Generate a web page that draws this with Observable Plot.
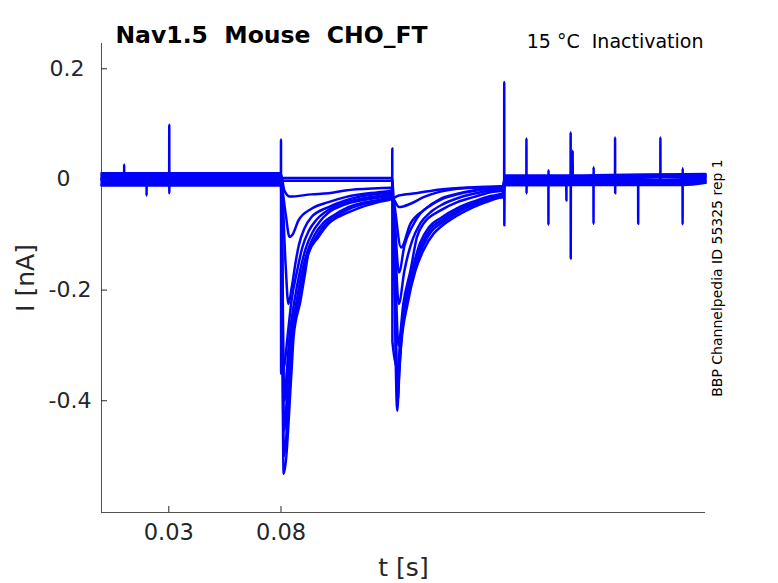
<!DOCTYPE html>
<html>
<head>
<meta charset="utf-8">
<script src="https://cdn.jsdelivr.net/npm/d3@7"></script>
<script src="https://cdn.jsdelivr.net/npm/@observablehq/plot@0.6"></script>
<style>
  html, body { margin: 0; padding: 0; background: #fff; }
  svg text { white-space: pre; }
</style>
</head>
<body>
<div id="chart"></div>
<script>
// ---- Chart text ----
const titleText = "Nav1.5  Mouse  CHO_FT";
const subtitleText = "15 °C  Inactivation";
const sideText = "BBP Channelpedia ID 55325 rep 1";
const xLabel = "t [s]";
const yLabel = "I [nA]";

// ---- Axes ----
const xDomain = [0, 0.2692];
const yDomain = [-0.602, 0.2457];
const xTicks = [0.03, 0.08];
const xTickLabels = ["0.03", "0.08"];
const yTicks = [-0.4, -0.2, 0, 0.2];
const yTickLabels = ["-0.4", "-0.2", "0   ", "0.2 "];

// ---- Sweeps: [time (s), current (nA)] ----
const sweep1 = [[0,0.0025],[0.01006,0.0025],[0.0101,0.027],[0.01014,0.0025],[0.1296,0.0025],
  [0.1318,-0.418],[0.1327,-0.345],[0.1336,-0.297],[0.1364,-0.225],[0.1399,-0.165],[0.1435,-0.128],
  [0.1480,-0.098],[0.1511,-0.086],[0.1586,-0.065],[0.1658,-0.050],[0.1734,-0.038],[0.1790,-0.032],
  [0.17946,-0.032],[0.1795,0.176],[0.17954,-0.083],[0.1797,0.002],[0.2692,0.006]];
const sweep2 = [[0,-0.0025],[0.02006,-0.0025],[0.0201,-0.029],[0.02014,-0.0025],[0.1296,-0.0025],
  [0.1320,-0.400],[0.1328,-0.345],[0.1335,-0.297],[0.1360,-0.225],[0.1392,-0.165],[0.1428,-0.125],
  [0.1470,-0.094],[0.1511,-0.080],[0.1586,-0.060],[0.1658,-0.046],[0.1734,-0.035],[0.1790,-0.030],
  [0.1797,-0.006],[0.18936,-0.006],[0.1894,0.074],[0.18944,-0.025],[0.1895,-0.006],[0.2692,-0.002]];
const sweep3 = [[0,0.008],[0.03016,0.008],[0.0302,0.099],[0.03024,-0.025],[0.0303,0.008],[0.0800,0.008],
  [0.0815,-0.020],[0.0840,-0.031],[0.0936,-0.027],[0.1012,-0.025],[0.1087,-0.020],[0.1234,-0.016],[0.1296,-0.015],
  [0.1320,-0.370],[0.1332,-0.297],[0.1355,-0.225],[0.1388,-0.165],[0.1425,-0.120],[0.1465,-0.090],
  [0.1511,-0.075],[0.1586,-0.056],[0.1658,-0.043],[0.1734,-0.032],[0.1790,-0.027],
  [0.1797,0.004],[0.19916,0.004],[0.1992,-0.082],[0.19924,0.016],[0.1993,0.004],[0.2692,0.008]];
const sweep4 = [[0,-0.009],[0.0800,-0.009],[0.0820,-0.060],[0.0838,-0.104],[0.0851,-0.100],[0.0878,-0.074],
  [0.0936,-0.053],[0.1012,-0.041],[0.1087,-0.032],[0.1234,-0.023],[0.12955,-0.020],[0.1296,0.056],[0.12965,-0.293],
  [0.1322,-0.345],[0.1330,-0.297],[0.1350,-0.225],[0.1384,-0.165],[0.1420,-0.115],[0.1460,-0.086],
  [0.1511,-0.070],[0.1586,-0.052],[0.1658,-0.040],[0.1734,-0.030],[0.1790,-0.025],
  [0.1797,-0.010],[0.20716,-0.010],[0.2072,-0.038],[0.20724,-0.010],[0.2692,-0.006]];
const sweep5 = [[0,0.011],[0.0800,0.011],[0.0820,-0.150],[0.0833,-0.225],[0.0848,-0.195],[0.0865,-0.150],
  [0.0880,-0.118],[0.0905,-0.088],[0.0936,-0.068],[0.1012,-0.050],[0.1087,-0.038],[0.1234,-0.026],[0.1296,-0.024],
  [0.1324,-0.300],[0.1345,-0.225],[0.1377,-0.165],[0.1406,-0.104],[0.1435,-0.080],[0.1511,-0.056],
  [0.1586,-0.041],[0.1658,-0.032],[0.1734,-0.023],[0.1790,-0.020],
  [0.1797,0.007],[0.20906,0.007],[0.2091,0.085],[0.20914,-0.143],[0.2092,0.007],[0.2692,0.010]];
const sweep6 = [[0,-0.001],[0.07995,-0.001],[0.0800,0.072],[0.08005,-0.351],[0.0816,-0.333],[0.0829,-0.285],
  [0.0847,-0.219],[0.0872,-0.165],[0.0895,-0.123],[0.0925,-0.092],[0.0960,-0.072],[0.1012,-0.055],
  [0.1087,-0.042],[0.1234,-0.030],[0.1296,-0.027],
  [0.1325,-0.225],[0.1350,-0.165],[0.1385,-0.110],[0.1420,-0.080],[0.1470,-0.058],[0.1520,-0.045],
  [0.1586,-0.034],[0.1658,-0.026],[0.1734,-0.020],[0.1790,-0.018],
  [0.1797,-0.003],[0.20996,-0.003],[0.2100,0.052],[0.21004,-0.003],[0.21926,-0.003],[0.2193,-0.080],
  [0.21934,0.022],[0.2194,-0.003],[0.2692,0.001]];
const sweep7 = [[0,0.005],[0.0800,0.005],[0.0815,-0.400],[0.0826,-0.346],[0.0838,-0.285],[0.0860,-0.219],
  [0.0885,-0.165],[0.0910,-0.125],[0.0940,-0.096],[0.0975,-0.075],[0.1012,-0.060],[0.1087,-0.045],
  [0.1234,-0.033],[0.1296,-0.029],
  [0.1326,-0.168],[0.1350,-0.120],[0.1385,-0.085],[0.1420,-0.062],[0.1470,-0.046],[0.1520,-0.035],
  [0.1586,-0.027],[0.1658,-0.021],[0.1734,-0.017],[0.1790,-0.016],
  [0.1797,0.002],[0.22886,0.002],[0.2289,0.076],[0.22894,-0.025],[0.2290,0.002],[0.2692,0.005]];
const sweep8 = [[0,-0.006],[0.0800,-0.006],[0.0814,-0.454],[0.0833,-0.346],[0.0845,-0.285],[0.0870,-0.219],
  [0.0895,-0.165],[0.0920,-0.128],[0.0950,-0.100],[0.0990,-0.078],[0.1030,-0.066],[0.1100,-0.050],
  [0.1234,-0.037],[0.1296,-0.032],
  [0.1335,-0.123],[0.1377,-0.080],[0.1435,-0.056],[0.1511,-0.035],[0.1586,-0.026],[0.1658,-0.020],
  [0.1734,-0.016],[0.1790,-0.015],
  [0.1797,-0.007],[0.23916,-0.007],[0.2392,-0.080],[0.23924,-0.007],[0.2692,-0.003]];
const sweep9 = [[0,0.001],[0.0800,0.001],[0.0813,-0.500],[0.0840,-0.346],[0.0850,-0.285],[0.0878,-0.219],
  [0.0902,-0.165],[0.0925,-0.130],[0.0960,-0.102],[0.1000,-0.080],[0.1040,-0.068],[0.1100,-0.054],
  [0.1234,-0.039],[0.1296,-0.034],
  [0.1326,-0.050],[0.1377,-0.044],[0.1435,-0.032],[0.1511,-0.022],[0.1586,-0.017],[0.1734,-0.014],[0.1790,-0.013],
  [0.1797,-0.001],[0.24906,-0.001],[0.2491,0.076],[0.24914,-0.001],[0.2692,0.003]];
const sweep10 = [[0,-0.011],[0.0800,-0.011],[0.0812,-0.532],[0.0847,-0.346],[0.0856,-0.285],[0.0887,-0.219],
  [0.0909,-0.165],[0.0922,-0.134],[0.0967,-0.104],[0.1012,-0.080],[0.1087,-0.062],[0.1159,-0.050],
  [0.1234,-0.041],[0.1296,-0.035],
  [0.1325,-0.029],[0.1400,-0.025],[0.1511,-0.018],[0.1658,-0.014],[0.1790,-0.012],
  [0.1797,-0.010],[0.25896,-0.010],[0.2590,-0.081],[0.25904,0.020],[0.2591,-0.010],[0.2692,-0.006]];

const sweeps = [sweep1, sweep2, sweep3, sweep4, sweep5, sweep6, sweep7, sweep8, sweep9, sweep10];
const traceData = sweeps.flatMap((pts, i) => pts.map(([t, I]) => ({sweep: i + 1, t, I})));

const axisColor = "#262626";
const font = "DejaVu Sans";

const chart = Plot.plot({
  width: 778,
  height: 583,
  marginLeft: 101,
  marginRight: 73,
  marginTop: 43,
  marginBottom: 71,
  style: {fontFamily: font, background: "#ffffff", overflow: "visible"},
  x: {domain: xDomain},
  y: {domain: yDomain},
  marks: [
    Plot.line(traceData, {x: "t", y: "I", z: "sweep", stroke: "#0000ff", strokeWidth: 2.5, curve: "monotone-x"}),
    Plot.ruleX([xDomain[0]], {stroke: axisColor, strokeWidth: 0.8}),
    Plot.ruleY([yDomain[0]], {stroke: axisColor, strokeWidth: 0.8}),
    Plot.axisX({ticks: xTicks, tickSize: -6, tickPadding: 18, fontSize: 22.5, color: axisColor, label: null,
      tickFormat: d => xTickLabels[xTicks.indexOf(d)]}),
    Plot.axisY({ticks: yTicks, tickSize: -6, tickPadding: 16, fontSize: 22, color: axisColor, label: null,
      tickFormat: d => yTickLabels[yTicks.indexOf(d)]}),
    Plot.text([titleText], {frameAnchor: "top-left", dx: 170, dy: -1, textAnchor: "middle", lineAnchor: "bottom",
      fontSize: 23.5, fontWeight: "bold", fill: "#000"}),
    Plot.text([subtitleText], {frameAnchor: "top-right", dx: -2, dy: 4, textAnchor: "end", lineAnchor: "bottom",
      fontSize: 19, fill: "#000"}),
    Plot.text([sideText], {frameAnchor: "right", dx: 12, rotate: -90, textAnchor: "middle", lineAnchor: "middle",
      fontSize: 14, fill: "#000"}),
    Plot.text([yLabel], {frameAnchor: "left", dx: -76, rotate: -90, textAnchor: "middle", lineAnchor: "middle",
      fontSize: 25, fill: axisColor}),
    Plot.text([xLabel], {frameAnchor: "bottom", dy: 63, textAnchor: "middle", lineAnchor: "bottom",
      fontSize: 25, fill: axisColor})
  ]
});
chart.setAttributeNS("http://www.w3.org/XML/1998/namespace", "xml:space", "preserve");
document.getElementById("chart").appendChild(chart);
</script>
</body>
</html>
